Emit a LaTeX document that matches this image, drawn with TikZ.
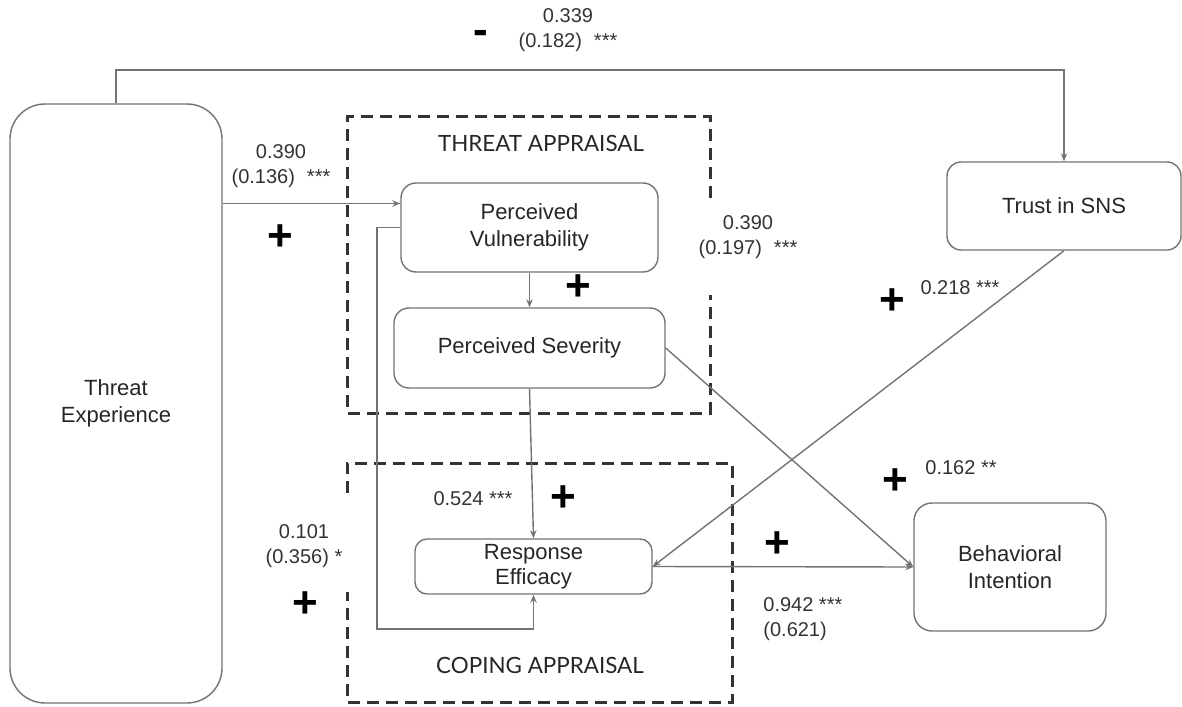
\documentclass[tikz,border=0pt]{standalone}
\usepackage{fontspec}
\setmainfont{Liberation Sans}
\newfontfamily\latofont{Lato}
\usetikzlibrary{arrows.meta}

\begin{document}
\begin{tikzpicture}[x=0.5pt,y=-0.5pt,
  blk/.style n args={3}{draw=black!55,line width=0.7pt,rounded corners=#3,minimum width=#1,minimum height=#2,align=center,font=\fontsize{11}{13.5}\selectfont,text=black!85,inner sep=0pt},
  cn/.style={draw=black!55,line width=0.7pt,-{Stealth[length=4pt,width=3.2pt]}},
  dbx/.style={draw=black!80,line width=1.5pt,dash pattern=on 6pt off 3.5pt},
  lbl/.style={align=center,font=\fontsize{10}{12.5}\selectfont,text=black!80,inner sep=0pt},
  pls/.style={font=\fontsize{22}{22}\selectfont\bfseries,inner sep=0pt},
  ttl/.style={font=\latofont\fontsize{11.2}{14}\selectfont,text=black!85,inner sep=0pt}]
\useasboundingbox (0,0) rectangle (1182,706);

\node[blk={106pt}{299.5pt}{17.5pt}] (te) at (116,403.5) {Threat\\Experience};
\node[blk={128.5pt}{44.5pt}{7.5pt}] (pv) at (529.5,227.5) {Perceived\\Vulnerability};
\node[blk={135.5pt}{40pt}{7.5pt}] (ps) at (529.5,348) {Perceived Severity};
\node[blk={118.5pt}{27.5pt}{6pt},font=\fontsize{11}{12.5}\selectfont] (re) at (533.5,566.5) {Response\\Efficacy};
\node[blk={117pt}{44pt}{7pt}] (tsns) at (1064,206) {Trust in SNS};
\node[blk={96pt}{64pt}{9pt}] (bi) at (1010,567) {Behavioral\\Intention};

\draw[dbx] (710,198) |- (347,117) |- (710,413) -- (710,295);
\draw[dbx] (347,493) |- (732,463) |- (347,702) -- (347,592);
\node[ttl] (tat) at (541,143) {THREAT APPRAISAL};
\node[ttl] (cat) at (540,665) {COPING APPRAISAL};

\coordinate (tl) at (600,70);
\coordinate (pvin) at ([yshift=12pt]pv.west);
\coordinate (lp) at (377,629);
\draw[cn] (te.north) |- (tl) -| (tsns.north);
\draw[cn] (te.east |- pvin) -- (pvin);
\draw[cn] (pv.south) -- (ps.north);
\draw[cn] (ps.south) -- (re.north);
\draw[cn] (pv.west) -| (lp) -| (re.south);
\draw[cn] (ps.east) -- (bi.west);
\draw[cn] (re.east) -- (bi.west);
\draw[cn] (tsns.south) -- (re.east);

\node[lbl] (w1) at (568,30) {0.339\\(0.182)\hspace{6pt}***};
\node[pls] (m1) at (481,37) {-};
\node[lbl] (w2) at (281,166) {0.390\\(0.136)\hspace{6pt}***};
\node[lbl] (w3) at (748,237) {0.390\\(0.197)\hspace{6pt}***};
\node[lbl] (w4) at (304,546) {0.101\\(0.356) *};
\node[lbl,align=left,anchor=west] (w5) at (763,619) {0.942 ***\\(0.621)};
\node[lbl] (w6) at (473,499) {0.524 ***};
\node[lbl] (w7) at (960,288) {0.218 ***};
\node[lbl] (w8) at (961,468) {0.162 **};
\foreach \x/\y [count=\i] in {280/238,578/288,563/499,892/302,895/482,777/545,305/605} {
  \node[pls] (p\i) at (\x,\y) {+};
}
\end{tikzpicture}
\end{document}
